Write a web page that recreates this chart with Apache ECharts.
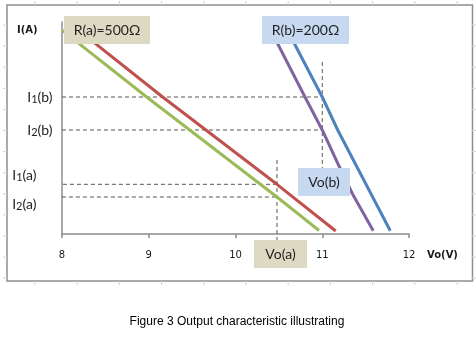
<!DOCTYPE html>
<html>
<head>
<meta charset="utf-8">
<script src="https://cdn.jsdelivr.net/npm/echarts@6/dist/echarts.min.js"></script>
<style>
  html, body { margin: 0; padding: 0; background: #fff; }
  #chart { width: 476px; height: 340px; }
</style>
</head>
<body>
<div id="chart"></div>
<script>
// Output voltage Vo (V) against output current I (A) for two load resistors
const xTicks = [8, 9, 10, 11, 12];

// Load line pairs: [Vo, I]
const lineA1 = [[8.19, 9.62], [9.16, 6.46], [10.478, 2.344], [11.155, 0.14]];   // red
const lineA2 = [[8.00, 9.62], [8.976, 6.46], [10.478, 1.745], [10.963, 0.165]]; // green
const lineB2 = [[10.405, 9.62], [10.801, 6.462], [11.0, 4.906], [11.182, 3.302], [11.349, 1.887], [11.588, 0.156]]; // purple
const lineB1 = [[10.597, 9.62], [11.0, 6.462], [11.178, 4.906], [11.784, 0.156]]; // blue

// Operating points
const VoA = 10.478, VoB = 11.0;
const I1b = 6.462, I2b = 4.906, I1a = 2.344, I2a = 1.745;

const labelsR = ['R(a)=500Ω', 'R(b)=200Ω'];
const caption = 'Figure 3 Output characteristic illustrating';

const dashColor = '#5a5548';
const labelFont = 'Lato';

function subLabel(n, tag) {
  return '{a|I}{s|' + n + '}{a|(' + tag + ')}';
}
const richI = {
  a: { fontFamily: labelFont, fontSize: 14, color: '#1f1f1f', verticalAlign: 'bottom' },
  s: { fontFamily: labelFont, fontSize: 11, color: '#1f1f1f', verticalAlign: 'bottom', padding: [0, 0, -1, 0] }
};

function guide(data, label) {
  const d = data.map((p, i) => {
    if (i === 0 && label) {
      return { value: p, label: Object.assign({ show: true, position: 'left', rich: richI }, label) };
    }
    return { value: p };
  });
  return {
    type: 'line', data: d, clip: false, showSymbol: true, symbol: 'circle', symbolSize: 1,
    itemStyle: { color: 'rgba(0,0,0,0)' }, silent: true,
    lineStyle: { color: dashColor, width: 1, type: [4, 3] }, z: 3
  };
}

function curve(data, color) {
  return {
    type: 'line', data: data, showSymbol: false, clip: false, silent: true,
    lineStyle: { color: color, width: 3 }, z: 4
  };
}

// Faint frame tick marks around the chart border
const frameTicks = [];
for (let y = 25; y <= 279; y += 21.1) {
  frameTicks.push({ type: 'line', shape: { x1: 3, y1: y, x2: 7, y2: y } });
  frameTicks.push({ type: 'line', shape: { x1: 472, y1: y, x2: 476, y2: y } });
}
for (let x = 35; x <= 470; x += 42.2) {
  frameTicks.push({ type: 'line', shape: { x1: x, y1: 1, x2: x, y2: 5 } });
  frameTicks.push({ type: 'line', shape: { x1: x, y1: 281, x2: x, y2: 285 } });
}
frameTicks.forEach(t => { t.style = { stroke: '#cfd4dc', lineWidth: 1 }; t.silent = true; });

function box(x, y, w, h, fill, text) {
  return [
    { type: 'rect', z: 100, zlevel: 1, shape: { x: x, y: y, width: w, height: h }, style: { fill: fill } },
    { type: 'text', z: 101, zlevel: 1, x: x + w / 2, y: y + h / 2,
      style: { text: text, fill: '#1f1f1f', font: '14px ' + labelFont, align: 'center', verticalAlign: 'middle' } }
  ];
}

const chart = echarts.init(document.getElementById('chart'), null, { renderer: 'canvas' });
chart.setOption({
  animation: false,
  backgroundColor: '#ffffff',
  grid: { left: 62, top: 22, right: 67, bottom: 106, containLabel: false },
  xAxis: {
    type: 'value', min: xTicks[0], max: xTicks[xTicks.length - 1], interval: 1,
    axisLine: { lineStyle: { color: '#8c8c8c', width: 1.5 } },
    axisTick: { show: true, length: 4, lineStyle: { color: '#8c8c8c', width: 1.5 } },
    axisLabel: { margin: 16, fontFamily: 'DejaVu Sans', fontSize: 10, color: '#1a1a1a' },
    splitLine: { show: false }
  },
  yAxis: {
    type: 'value', min: 0, max: 10,
    axisLine: { show: true, lineStyle: { color: '#8c8c8c', width: 1.5 } },
    axisTick: { show: false },
    axisLabel: { show: false },
    splitLine: { show: false }
  },
  series: [
    curve(lineA2, '#9bbb59'),
    curve(lineA1, '#c0504d'),
    curve(lineB2, '#8064a2'),
    curve(lineB1, '#4f81bd'),
    guide([[7.919, I1b], [VoB, I1b]], { formatter: subLabel(1, 'b'), distance: 2 }),
    guide([[7.919, I2b], [VoB, I2b]], { formatter: subLabel(2, 'b'), distance: 2 }),
    guide([[7.769, I1a], [VoA, I1a]], { formatter: subLabel(1, 'a'), distance: 5, offset: [0, -9] }),
    guide([[7.757, I2a], [VoA, I2a]], { formatter: subLabel(2, 'a'), distance: 4, offset: [0, 7] }),
    guide([[VoB, 8.113], [VoB, 3.11]]),
    guide([[VoA, 3.491], [VoA, -0.283]])
  ],
  graphic: [
    { type: 'rect', shape: { x: 7, y: 5, width: 465.5, height: 276 },
      style: { fill: null, stroke: '#8e8e8e', lineWidth: 1.5 }, z: 0, silent: true },
    ...frameTicks,
    ...box(64, 16, 86, 28, '#ddd9c3', labelsR[0]),
    ...box(262, 16, 87, 28, '#c6d9f1', labelsR[1]),
    ...box(298, 168, 52, 28, '#c6d9f1', 'Vo(b)'),
    ...box(254, 240, 53, 28, '#ddd9c3', 'Vo(a)'),
    { type: 'text', x: 17, y: 30, z: 100,
      style: { text: 'I(A)', font: 'bold 10px "DejaVu Sans"', fill: '#1a1a1a', verticalAlign: 'middle' } },
    { type: 'text', x: 427, y: 255, z: 100,
      style: { text: 'Vo(V)', font: 'bold 10px "DejaVu Sans"', fill: '#1a1a1a', verticalAlign: 'middle' } },
    { type: 'text', x: 237, y: 322, z: 100,
      style: { text: caption, font: '12px "Liberation Sans"', fill: '#000', align: 'center', verticalAlign: 'middle' } }
  ]
});
</script>
</body>
</html>
